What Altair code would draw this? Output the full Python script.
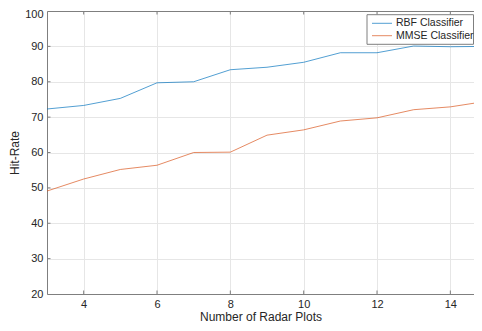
import altair as alt
import pandas as pd

radar_plots = [3, 4, 5, 6, 7, 8, 9, 10, 11, 12, 13, 14, 15]
rbf = [72.3, 73.3, 75.3, 79.7, 80.0, 83.4, 84.1, 85.5, 88.2, 88.2, 90.1, 89.9, 90.0]
mmse = [49.1, 52.5, 55.2, 56.4, 60.0, 60.1, 64.9, 66.4, 68.9, 69.8, 72.1, 72.9, 74.5]
series = ["RBF Classifier", "MMSE Classifier"]
colors = ["#0072BD", "#D95319"]
x_ticks = [4, 6, 8, 10, 12, 14]
y_ticks = [20, 30, 40, 50, 60, 70, 80, 90, 100]

df = pd.DataFrame({
    "x": radar_plots * 2,
    "y": rbf + mmse,
    "s": [series[0]] * len(rbf) + [series[1]] * len(mmse),
})
xt = pd.DataFrame({"x": x_ticks})
yt = pd.DataFrame({"y": y_ticks[1:-1]})
leg = pd.DataFrame({"s": series})
box = pd.DataFrame({"k": [0]})

FONT = "Liberation Sans"
TXT = "#262626"
AX = "#7f7f7f"
xscale = alt.Scale(domain=[3, 14.645], nice=False, zero=False)
yscale = alt.Scale(domain=[20, 100], nice=False, zero=False)
cscale = alt.Scale(domain=series, range=colors)
legy = alt.Scale(type="point", domain=series, range=[12.3, 24.7], padding=0)

lines = alt.Chart(df).mark_line(strokeWidth=1, strokeOpacity=0.68, clip=True).encode(
    x=alt.X("x:Q", scale=xscale, title="Number of Radar Plots",
            axis=alt.Axis(values=x_ticks, tickSize=0, labelPadding=4, titlePadding=2,
                          grid=True, gridColor="#e6e6e6", domainColor=AX,
                          labelFontSize=11, titleFontSize=12, labelColor=TXT, titleColor=TXT,
                          labelFont=FONT, titleFont=FONT, titleFontWeight="normal")),
    y=alt.Y("y:Q", scale=yscale, title="Hit-Rate",
            axis=alt.Axis(values=y_ticks, tickSize=0, labelPadding=4, titlePadding=3,
                          labelOffset=alt.condition("datum.value == 100", alt.value(3), alt.value(0)),
                          grid=True, gridColor="#e6e6e6", domainColor=AX,
                          labelFontSize=11, titleFontSize=12, labelColor=TXT, titleColor=TXT,
                          labelFont=FONT, titleFont=FONT, titleFontWeight="normal")),
    color=alt.Color("s:N", scale=cscale, legend=None),
)

top_axis = alt.Chart(xt).mark_rule(strokeOpacity=0).encode(
    x=alt.X("x:Q", scale=xscale,
            axis=alt.Axis(orient="top", labels=False, ticks=False, grid=False, title=None,
                          domainColor=AX)),
)

tick_bottom = alt.Chart(xt).mark_rule(color=AX, strokeWidth=1).encode(
    x=alt.X("x:Q", scale=xscale, axis=None), y=alt.value(283), y2=alt.value(279.5))
tick_top = alt.Chart(xt).mark_rule(color=AX, strokeWidth=1).encode(
    x=alt.X("x:Q", scale=xscale, axis=None), y=alt.value(0), y2=alt.value(3.5))
tick_left = alt.Chart(yt).mark_rule(color=AX, strokeWidth=1).encode(
    y=alt.Y("y:Q", scale=yscale, axis=None), x=alt.value(0), x2=alt.value(3.5))

leg_box = alt.Chart(box).mark_rect(fill="white", stroke=AX, strokeWidth=1).encode(
    x=alt.value(320), x2=alt.value(426.5), y=alt.value(3.7), y2=alt.value(33.3))
leg_sym = alt.Chart(leg).mark_rule(strokeWidth=1, strokeOpacity=0.68).encode(
    y=alt.Y("s:N", scale=legy, axis=None),
    x=alt.value(325), x2=alt.value(345),
    color=alt.Color("s:N", scale=cscale, legend=None))
leg_txt = alt.Chart(leg).mark_text(align="left", baseline="middle", font=FONT,
                                   fontSize=10.5, color=TXT).encode(
    y=alt.Y("s:N", scale=legy, axis=None),
    x=alt.value(349),
    text="s:N")

chart = alt.layer(lines, top_axis, tick_bottom, tick_top, tick_left,
                  leg_box, leg_sym, leg_txt).resolve_axis(
    x="independent", y="independent"
).resolve_scale(y="independent").properties(
    width=427, height=283,
    padding={"left": 39, "top": 3, "right": 0, "bottom": 29},
    autosize=alt.AutoSizeParams(type="none"),
).configure_view(stroke=None).configure(background="white")

chart.save("out.html", embed_options={"renderer": "svg", "actions": False})
